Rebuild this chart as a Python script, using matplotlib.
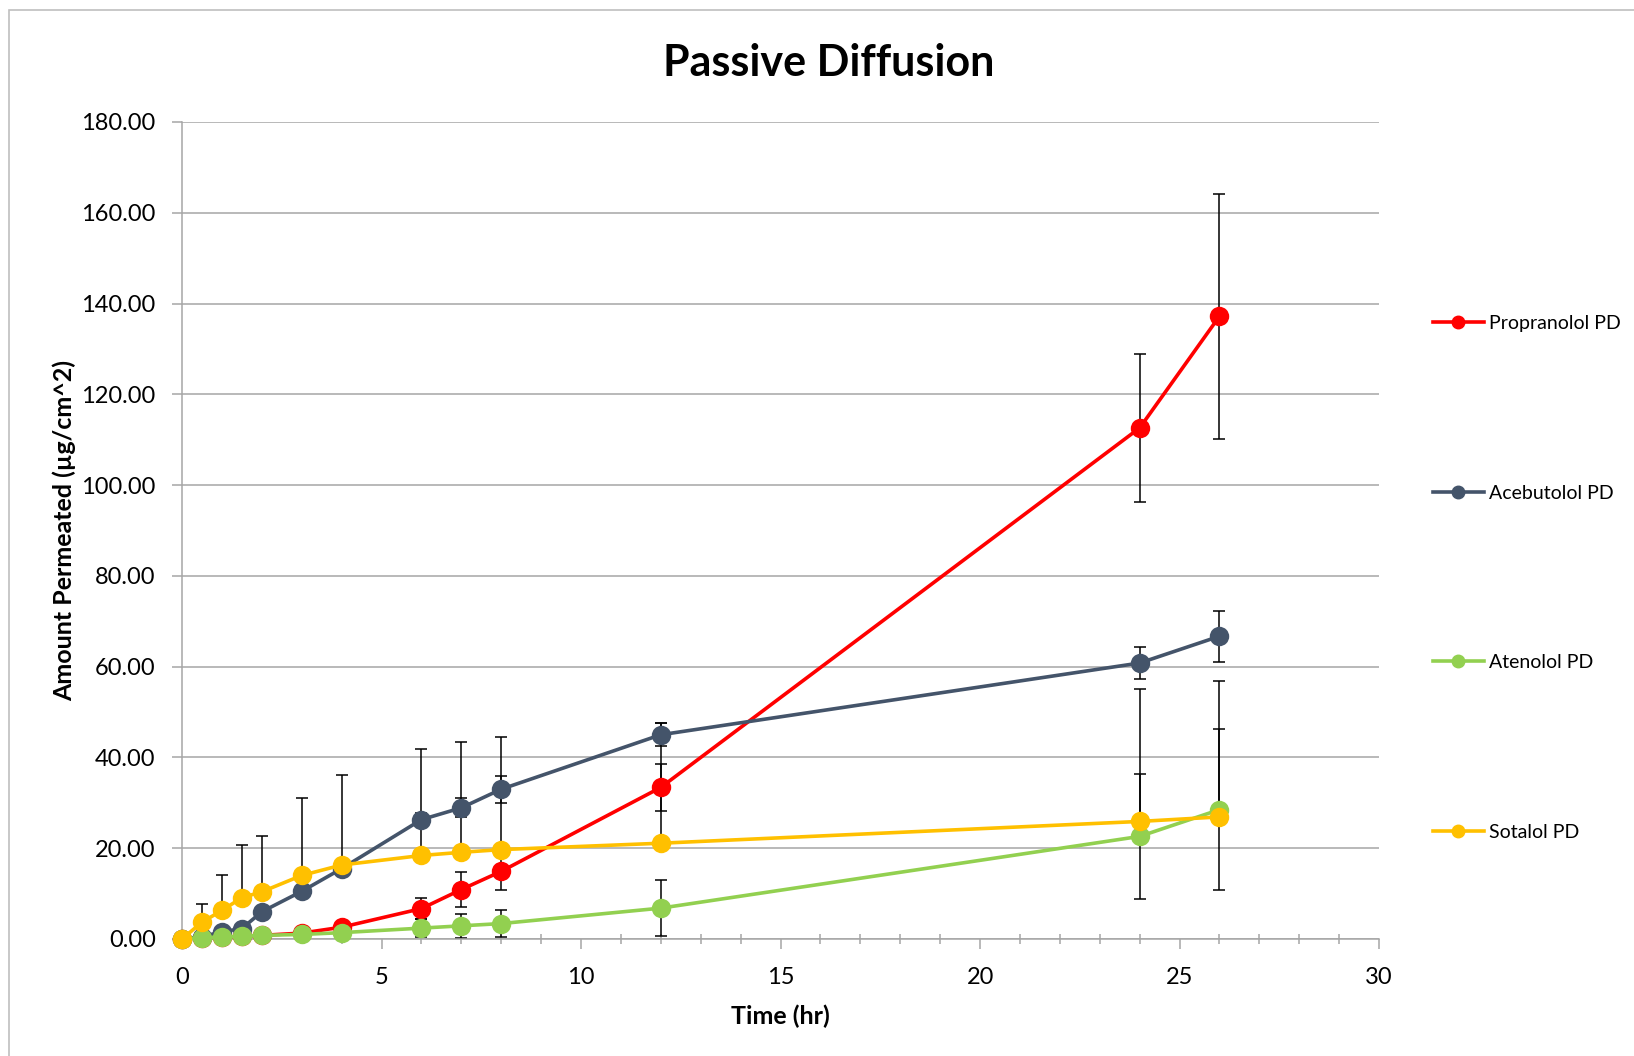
import numpy as np
import matplotlib
matplotlib.use("Agg")
import matplotlib.pyplot as plt
from matplotlib.lines import Line2D
from matplotlib.patches import Rectangle
from matplotlib.ticker import FormatStrFormatter, MultipleLocator

plt.rcParams['font.family'] = ['Lato', 'DejaVu Sans']

time = [0, 0.5, 1, 1.5, 2, 3, 4, 6, 7, 8, 12, 24, 26]

propranolol = [0, 0.3, 0.4, 0.6, 0.8, 1.3, 2.6, 6.7, 10.9, 14.9, 33.4, 112.6, 137.2]
propranolol_sd = [0, 0.1, 0.2, 0.2, 0.3, 0.4, 0.6, 2.4, 3.8, 4.1, 5.2, 16.3, 27.0]

acebutolol = [0, 0.5, 1.6, 2.3, 6.0, 10.5, 15.5, 26.3, 28.9, 33.0, 45.0, 60.8, 66.7]
acebutolol_sd = [0, 0.2, 0.5, 0.6, 0.8, 1.0, 1.2, 1.5, 2.1, 3.0, 2.5, 3.6, 5.6]

atenolol = [0, 0.3, 0.4, 0.6, 0.8, 1.0, 1.4, 2.4, 2.9, 3.4, 6.8, 22.6, 28.5]
atenolol_sd = [0, 0.1, 0.1, 0.2, 0.2, 0.3, 0.4, 2.0, 2.6, 3.0, 6.1, 13.7, 17.7]

sotalol = [0, 3.7, 6.3, 9.1, 10.4, 14.0, 16.3, 18.4, 19.1, 19.7, 21.1, 25.9, 26.9]
sotalol_sd_up = [0, 4.1, 7.8, 11.6, 12.3, 17.1, 19.9, 23.5, 24.4, 24.7, 26.4, 29.2, 29.9]

labels = ['Propranolol PD', 'Acebutolol PD', 'Atenolol PD', 'Sotalol PD']
colors = ['#FF0000', '#44546A', '#92D050', '#FFC000']

fig = plt.figure(figsize=(16.34, 10.56), dpi=100)
ax = fig.add_axes([0.1114, 0.1108, 0.7326, 0.7737])

# chart area border
fig.patches.append(Rectangle((0.0055, -0.02), 1.1, 1.0105, transform=fig.transFigure,
                             fill=False, edgecolor='#BFBFBF', linewidth=1.2))

series = [
    (propranolol, [propranolol_sd, propranolol_sd]),
    (acebutolol, [acebutolol_sd, acebutolol_sd]),
    (atenolol, [atenolol_sd, atenolol_sd]),
    (sotalol, [np.zeros(len(sotalol)), sotalol_sd_up]),
]

for (vals, err), col in zip(series, colors):
    ax.errorbar(time, vals, yerr=err, fmt='none', ecolor='black', elinewidth=1.1,
                capsize=4.5, capthick=1.1, zorder=3)

for (vals, err), col, lab in zip(series, colors, labels):
    ax.plot(time, vals, color=col, linewidth=2.6, marker='o', markersize=14,
            markeredgewidth=0, zorder=6, label=lab, clip_on=False)

ax.set_xlim(0, 30)
ax.set_ylim(0, 180)
ax.xaxis.set_major_locator(MultipleLocator(5))
ax.xaxis.set_minor_locator(MultipleLocator(1))
ax.yaxis.set_major_locator(MultipleLocator(20))
ax.yaxis.set_major_formatter(FormatStrFormatter('%.2f'))
ax.grid(axis='y', color='#A6A6A6', linewidth=1.1)
ax.set_axisbelow(True)

for s in ['top', 'right']:
    ax.spines[s].set_visible(False)
for s in ['left', 'bottom']:
    ax.spines[s].set_color('#A6A6A6')
    ax.spines[s].set_linewidth(1.1)
    ax.spines[s].set_zorder(5)

ax.tick_params(axis='both', which='major', direction='out', length=7, color='#A6A6A6',
               width=1.1, labelsize=17)
ax.tick_params(axis='y', which='major', pad=12)
ax.tick_params(axis='x', which='major', pad=13)
ax.tick_params(axis='x', which='minor', direction='inout', length=7, color='#A6A6A6', width=1.1)

fig.text(0.507, 0.94, 'Passive Diffusion', fontsize=31, fontweight='bold',
         ha='center', va='center')
ax.set_xlabel('Time (hr)', fontsize=18, fontweight='bold', labelpad=12)
ax.set_ylabel('Amount Permeated (µg/cm^2)', fontsize=18, fontweight='bold', labelpad=4)

handles = [Line2D([], [], color=c, linewidth=2.6, marker='o', markersize=9) for c in colors]
fig.legend(handles, labels, loc='center left', bbox_to_anchor=(0.877, 0.4527),
           frameon=False, fontsize=14, handlelength=2.6, handletextpad=0.3,
           labelspacing=7.85, borderpad=0, borderaxespad=0)

fig.savefig('out.png', dpi=100)
